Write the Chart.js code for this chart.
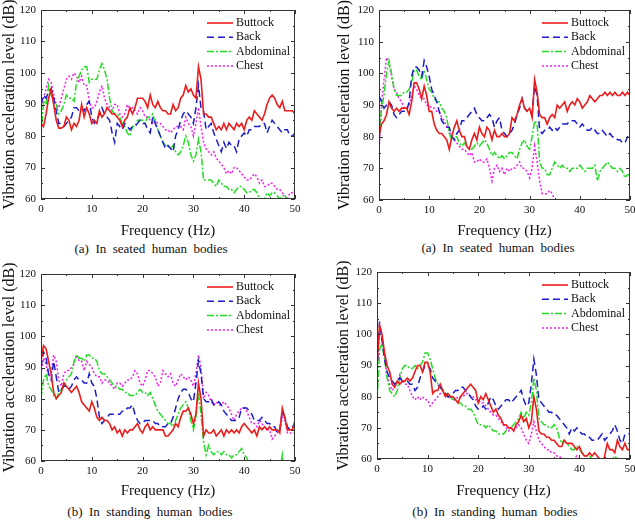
<!DOCTYPE html>
<html>
<head>
<meta charset="utf-8">
<script src="https://cdn.jsdelivr.net/npm/chart.js@4.4.1/dist/chart.umd.min.js"></script>
<style>
  html, body { margin: 0; padding: 0; background: #fff; }
  body { width: 635px; height: 525px; position: relative; overflow: hidden; }
  .panel { position: absolute; }
  .caption {
    position: absolute;
    font-family: 'Liberation Serif', 'Times New Roman', serif;
    font-size: 13px;
    color: #111;
    white-space: pre;
    transform: translate(-50%, -50%);
  }
</style>
</head>
<body>
<div class="panel" style="left:0;top:0"><canvas id="seated1" width="320" height="240"></canvas></div>
<div class="panel" style="left:320px;top:0"><canvas id="seated2" width="315" height="240"></canvas></div>
<div class="panel" style="left:0;top:260px"><canvas id="standing1" width="320" height="240"></canvas></div>
<div class="panel" style="left:320px;top:260px"><canvas id="standing2" width="315" height="240"></canvas></div>
<div class="caption" style="left:151px;top:249px">(a)  In  seated  human  bodies</div>
<div class="caption" style="left:498px;top:248px">(a)  In  seated  human  bodies</div>
<div class="caption" style="left:150px;top:512px">(b)  In  standing  human  bodies</div>
<div class="caption" style="left:495px;top:512px">(b)  In  standing  human  bodies</div>

<script>
// frequency axis, 0.5 Hz steps
const freq = [
  0, 0.5, 1, 1.5, 2, 2.5, 3, 3.5, 4, 4.5,
  5, 5.5, 6, 6.5, 7, 7.5, 8, 8.5, 9, 9.5,
  10, 10.5, 11, 11.5, 12, 12.5, 13, 13.5, 14, 14.5,
  15, 15.5, 16, 16.5, 17, 17.5, 18, 18.5, 19, 19.5,
  20, 20.5, 21, 21.5, 22, 22.5, 23, 23.5, 24, 24.5,
  25, 25.5, 26, 26.5, 27, 27.5, 28, 28.5, 29, 29.5,
  30, 30.5, 31, 31.5, 32, 32.5, 33, 33.5, 34, 34.5,
  35, 35.5, 36, 36.5, 37, 37.5, 38, 38.5, 39, 39.5,
  40, 40.5, 41, 41.5, 42, 42.5, 43, 43.5, 44, 44.5,
  45, 45.5, 46, 46.5, 47, 47.5, 48, 48.5, 49, 49.5,
  50
];

const seriesNames = ['Buttock', 'Back', 'Abdominal', 'Chest'];

// (a) seated, left panel
const seated1Buttock = [
  84, 83, 87, 92, 95, 90, 85, 82.5, 82.5, 83,
  86, 85, 82, 84, 83, 85, 90, 86, 89, 87,
  84, 85, 84, 88, 86, 87, 89, 88, 87, 87,
  86, 85, 83, 85, 86, 89, 87, 89, 92, 92,
  92, 91, 89, 93, 90, 89, 91, 89, 88, 88,
  87, 87, 90, 88, 89, 92, 93, 96, 94, 95,
  93, 92, 102, 98, 87, 87, 86, 86, 84, 82,
  83, 82, 84, 82, 84, 83, 82, 84, 83, 84,
  82, 85, 86, 85, 88, 87, 86, 85, 87, 90,
  92, 93, 92, 90, 89, 91, 88, 88, 88, 88,
  87
];
const seated1Back = [
  90, 93, 92, 94, 95, 92, 88, 84, 84, 83,
  84, 85, 86, 89, 89, 88, 89, 88, 90, 91,
  86, 84, 85, 87, 89, 87, 86, 85, 81, 78,
  84, 83, 82, 84, 83, 82, 83, 83, 84, 85,
  84, 84, 82, 81, 86, 84, 82, 80, 78, 76,
  77, 76, 75, 80, 82, 85, 87, 88, 87, 86,
  84, 89, 96, 89, 88, 82, 83, 84, 81, 79,
  77, 75, 78, 76, 78, 77, 77, 75, 79, 80,
  81, 80, 82, 82, 83, 83, 83, 84, 84, 81,
  83, 85, 84, 83, 82, 81, 82, 82, 80, 80,
  81
];
const seated1Abdominal = [
  80, 91, 90, 96, 93, 91, 90, 87, 88, 90,
  93, 92, 92, 91, 97, 99, 101, 102, 102, 97,
  98, 98, 98, 101, 103, 101, 98, 92, 88, 87,
  87, 86, 84, 83, 81, 80, 83, 83, 85, 85,
  85, 84, 86, 86, 87, 84, 82, 80, 78, 77,
  77, 76, 77, 75, 74, 75, 77, 80, 78, 74,
  72, 74, 79, 75, 66, 66, 66, 66, 65, 64,
  66, 65, 64, 64, 63, 63, 62, 63, 64, 64,
  63, 62, 62, 63, 63, 62, 60, 60, 60, 62,
  61, 62, 62, 61, 60, 61, 61, 60, 59, 60,
  60
];
const seated1Chest = [
  88, 92, 95, 98, 97, 93, 90, 89, 92, 95,
  98, 99, 98, 100, 99, 97, 99, 96, 96, 91,
  89, 89, 91, 94, 96, 92, 90, 89, 88, 90,
  90, 87, 86, 87, 90, 88, 89, 88, 87, 89,
  88, 86, 86, 85, 84, 85, 84, 84, 83, 82,
  82, 81, 82, 83, 83, 83, 82, 86, 84, 83,
  80, 84, 89, 83, 78, 76, 75, 74, 75, 73,
  72, 71, 70, 68, 69, 68, 70, 70, 69, 68,
  67, 66, 66, 67, 68, 67, 65, 66, 64, 64,
  65, 65, 64, 63, 63, 62, 61, 60, 62, 62,
  63
];

// (a) seated, right panel
const seated2Buttock = [
  80, 84, 85, 87, 91, 89, 88, 89, 88, 89,
  89, 89, 87, 91, 97, 97, 95, 92, 96, 93,
  88, 88, 84, 82, 81, 81, 80, 79, 76, 80,
  83, 85, 82, 80, 80, 77, 76, 79, 81, 79,
  83, 81, 80, 83, 82, 79, 82, 80, 80, 81,
  80, 80, 81, 86, 85, 87, 90, 92, 89, 88,
  89, 86, 98, 94, 87, 86, 86, 84, 86, 87,
  86, 90, 89, 90, 91, 88, 90, 91, 90, 92,
  91, 89, 90, 91, 93, 92, 91, 92, 93, 93,
  94, 93, 94, 93, 94, 93, 93, 94, 93, 94,
  93
];
const seated2Back = [
  93, 91, 89, 90, 91, 90, 87, 86, 87, 88,
  88, 88, 91, 99, 102, 102, 101, 99, 104, 102,
  99, 95, 93, 91, 88, 85, 84, 83, 83, 80,
  79, 81, 82, 85, 85, 86, 87, 88, 89, 87,
  86, 85, 85, 86, 87, 86, 83, 85, 86, 82,
  81, 80, 81, 82, 84, 87, 89, 92, 89, 88,
  88, 87, 96, 93, 82, 81, 82, 82, 83, 82,
  83, 82, 83, 84, 84, 84, 85, 85, 85, 84,
  83, 84, 83, 82, 82, 83, 82, 81, 81, 82,
  81, 80, 81, 80, 80, 79, 79, 78, 78, 80,
  80
];
const seated2Abdominal = [
  78, 89, 93, 100, 104, 100, 95, 93, 93, 93,
  94, 94, 95, 97, 101, 101, 99, 98, 101, 98,
  95, 94, 92, 91, 91, 89, 88, 86, 81, 79,
  80, 80, 78, 77, 78, 77, 76, 76, 77, 78,
  77, 78, 79, 78, 76, 74, 75, 74, 73, 74,
  73, 74, 75, 75, 74, 73, 76, 78, 79, 77,
  76, 80, 85, 84, 72, 70, 70, 68, 68, 70,
  72, 71, 70, 71, 70, 70, 69, 70, 70, 70,
  71, 70, 69, 70, 70, 70, 71, 66, 69, 70,
  71, 72, 71, 70, 70, 69, 70, 69, 67, 68,
  68
];
const seated2Chest = [
  75, 90, 98, 105, 103, 99, 95, 94, 92, 91,
  89, 89, 90, 93, 96, 95, 93, 92, 92, 90,
  90, 89, 89, 88, 88, 86, 85, 83, 82, 80,
  79, 78, 77, 76, 76, 75, 74, 75, 72, 72,
  73, 72, 72, 73, 70, 66, 70, 71, 69, 70,
  68, 70, 69, 70, 70, 71, 72, 70, 70, 69,
  67, 70, 77, 72, 66, 62, 62, 62, 63, 62,
  60, 59, 57, null, null, null, null, null, null, null,
  null, null, null, null, null, null, null, null, null, null,
  null, null, null, null, null, null, null, null, null, null,
  null
];

// (b) standing, left panel
const standing1Buttock = [
  92, 97, 96, 92, 88, 82, 80, 81, 82, 85,
  84, 83, 82, 83, 84, 82, 79, 78, 77, 76,
  79, 77, 74, 73, 74, 73, 73, 72, 70, 71,
  69, 70, 68, 70, 69, 70, 70, 71, 72, 70,
  69, 71, 72, 70, 71, 70, 70, 70, 70, 68,
  68, 69, 70, 72, 71, 74, 76, 76, 77, 75,
  72, 75, 85, 80, 68, 70, 69, 69, 70, 68,
  69, 70, 68, 70, 69, 70, 69, 70, 69, 71,
  72, 71, 70, 69, 70, 68, 71, 70, 71, 70,
  71, 70, 70, 70, 69, 77, 74, 70, 70, 70,
  73
];
const standing1Back = [
  90, 95, 93, 88, 86, 92, 87, 82, 83, 84,
  84, 83, 84, 86, 87, 86, 86, 85, 85, 88,
  85, 84, 80, 74, 72, 73, 74, 75, 75, 75,
  75, 75, 76, 76, 77, 77, 78, 75, 73, 72,
  72, 73, 73, 73, 73, 72, 72, 71, 71, 71,
  72, 72, 74, 77, 80, 82, 83, 83, 82, 80,
  79, 85, 92, 88, 80, 79, 79, 80, 78, 78,
  79, 78, 76, 75, 74, 73, 73, 73, 74, 77,
  77, 77, 76, 75, 73, 73, 73, 74, 73, 72,
  72, 71, 71, 69, 70, 76, 74, 71, 70, 71,
  72
];
const standing1Abdominal = [
  80, 86, 88, 84, 83, 81, 80, 82, 83, 84,
  86, 87, 88, 92, 94, 93, 93, 92, 94, 94,
  93, 93, 92, 89, 88, 88, 87, 86, 85, 84,
  84, 83, 83, 82, 82, 81, 81, 81, 82, 83,
  82, 82, 81, 82, 80, 78, 76, 75, 74, 73,
  72, 72, 71, 73, 75, 77, 78, 79, 77, 73,
  70, 74, 82, 75, 66, 62, 65, 63, 62, 63,
  63, 62, 63, 62, 62, 61, 62, 62, 63, 64,
  62, 61, 59, 57, null, null, null, null, null, null,
  null, null, null, null, 56, 62, 56, null, null, null,
  null
];
const standing1Chest = [
  88, 93, 91, 87, 88, 94, 92, 86, 84, 88,
  89, 89, 90, 91, 94, 92, 92, 89, 92, 91,
  90, 88, 87, 87, 85, 86, 86, 85, 84, 83,
  85, 85, 84, 85, 86, 86, 87, 89, 88, 85,
  84, 86, 89, 89, 88, 87, 84, 85, 89, 88,
  87, 88, 85, 84, 86, 88, 87, 86, 87, 86,
  84, 88, 94, 90, 80, 82, 81, 79, 78, 79,
  78, 78, 79, 78, 77, 75, 73, 75, 76, 77,
  77, 76, 74, 72, 72, 71, 73, 72, 71, 70,
  70, 67, 68, 69, 70, 74, 73, 69, 69, 69,
  69
];

// (b) standing, right panel
const standing2Buttock = [
  90, 103, 100, 94, 90, 88, 84, 83, 85, 84,
  85, 85, 86, 85, 86, 88, 90, 90, 88, 91,
  91, 88, 81, 82, 82, 84, 82, 80, 81, 80,
  80, 79, 78, 80, 81, 82, 83, 84, 83, 82,
  78, 80, 79, 81, 79, 77, 75, 76, 74, 73,
  71, 71, 70, 70, 69, 71, 72, 74, 72, 73,
  70, 72, 80, 76, 69, 68, 68, 67, 67, 66,
  66, 65, 64, 64, 66, 65, 65, 65, 64, 63,
  64, 62, 61, 61, 62, 61, 62, 61, 60, 58,
  61, 65, 63, 63, 62, 66, 64, 63, 65, 63,
  63
];
const standing2Back = [
  88, 104, 98, 92, 88, 86, 85, 84, 85, 86,
  85, 85, 85, 84, 84, 82, 83, 86, 88, 90,
  90, 89, 86, 85, 84, 83, 82, 81, 80, 80,
  81, 82, 82, 83, 83, 82, 81, 80, 79, 77,
  76, 76, 77, 76, 78, 80, 79, 77, 76, 77,
  78, 79, 79, 78, 79, 80, 81, 82, 79, 77,
  78, 84, 92, 87, 79, 78, 77, 76, 75, 75,
  74, 74, 73, 72, 71, 70, 68, 70, 69, 70,
  69, 68, 68, 67, 67, 66, 66, 66, 67, 68,
  66, 67, 68, 69, 71, 69, 66, 65, 68, 68,
  68
];
const standing2Abdominal = [
  78, 95, 97, 92, 86, 82, 81, 80, 82, 86,
  89, 90, 90, 89, 89, 90, 89, 90, 91, 94,
  94, 92, 89, 86, 84, 83, 82, 81, 81, 80,
  79, 79, 78, 78, 77, 77, 76, 76, 75, 73,
  71, 71, 71, 70, 71, 70, 69, 69, 68, 68,
  68, 69, 70, 70, 71, 72, 73, 75, 73, 75,
  74, 78, 86, 82, 73, 72, 71, 71, 70, 70,
  71, 70, 67, 65, 66, 65, 64, 63, 63, 64,
  63, 62, 61, 61, 61, 60, 60, 60, 60, 59,
  59, 58, 59, 60, 61, 60, 59, 58, null, null,
  null
];
const standing2Chest = [
  88, 100, 99, 93, 87, 84, 82, 83, 85, 87,
  85, 84, 84, 82, 80, 79, 80, 79, 80, 79,
  79, 77, 78, 79, 80, 81, 82, 81, 80, 80,
  79, 79, 80, 80, 80, 81, 81, 80, 80, 79,
  79, 78, 78, 77, 76, 75, 74, 74, 73, 72,
  71, 70, 69, 70, 69, 70, 71, 70, 68, 66,
  65, 68, 72, 69, 66, 65, 64, 63, 63, 62,
  62, 61, 61, 60, 60, 59, 58, 59, 60, 61,
  59, 57, null, null, null, null, null, null, null, null,
  null, null, null, null, null, null, null, null, null, null,
  null
];

const lineStyles = [
  { color: '#ec1c1c', dash: [], width: 1.6 },
  { color: '#1c1ccc', dash: [7, 4], width: 1.5 },
  { color: '#22dd22', dash: [7, 2, 2, 2], width: 1.5 },
  { color: '#ee22ee', dash: [2, 2], width: 1.5 }
];

const serif = "'Liberation Serif', 'Times New Roman', serif";

// inward ticks on all four sides + box
const framePlugin = {
  id: 'frame',
  afterDatasetsDraw(chart) {
    const { ctx, chartArea: a, scales: { x, y } } = chart;
    ctx.save();
    ctx.strokeStyle = '#333';
    ctx.lineWidth = 1;
    ctx.strokeRect(a.left + 0.5, a.top + 0.5, a.right - a.left - 1, a.bottom - a.top - 1);
    ctx.beginPath();
    for (let v = 0; v <= 50; v += 5) {
      const px = Math.round(x.getPixelForValue(v)) + 0.5;
      const len = v % 10 === 0 ? 4 : 2;
      ctx.moveTo(px, a.bottom); ctx.lineTo(px, a.bottom - len);
      ctx.moveTo(px, a.top); ctx.lineTo(px, a.top + len);
    }
    for (let v = 60; v <= 120; v += 5) {
      const py = Math.round(y.getPixelForValue(v)) + 0.5;
      const len = v % 10 === 0 ? 4 : 2;
      ctx.moveTo(a.left, py); ctx.lineTo(a.left + len, py);
      ctx.moveTo(a.right, py); ctx.lineTo(a.right - len, py);
    }
    ctx.stroke();

    // legend, top right inside the plot
    ctx.font = '12px ' + serif;
    ctx.textBaseline = 'middle';
    ctx.fillStyle = '#111';
    chart.data.datasets.forEach((ds, i) => {
      const ly = a.top + 13 + i * 14.3;
      const lx = a.right - 88;
      ctx.beginPath();
      ctx.strokeStyle = ds.borderColor;
      ctx.lineWidth = ds.borderWidth;
      ctx.setLineDash(ds.borderDash);
      ctx.moveTo(lx, ly);
      ctx.lineTo(lx + 26, ly);
      ctx.stroke();
      ctx.setLineDash([]);
      ctx.fillText(ds.label, lx + 29, ly);
    });
    ctx.restore();
  }
};

function makeChart(id, series, box) {
  const canvas = document.getElementById(id);
  const datasets = series.map((vals, i) => ({
    label: seriesNames[i],
    data: freq.map((f, k) => ({ x: f, y: vals[k] })),
    borderColor: lineStyles[i].color,
    borderDash: lineStyles[i].dash,
    borderWidth: lineStyles[i].width,
    pointRadius: 0,
    tension: 0,
    fill: false,
    clip: 0
  }));

  new Chart(canvas.getContext('2d'), {
    type: 'line',
    data: { datasets: datasets },
    options: {
      responsive: false,
      animation: false,
      events: [],
      layout: {
        padding: { left: box.padLeft, top: box.top, right: canvas.width - box.right, bottom: 0 }
      },
      plugins: { legend: { display: false }, tooltip: { enabled: false } },
      scales: {
        x: {
          type: 'linear',
          min: 0,
          max: 50,
          border: { display: false },
          grid: { display: false, drawTicks: false },
          ticks: {
            stepSize: 10,
            padding: 4,
            maxRotation: 0,
            autoSkip: false,
            color: '#111',
            font: { family: serif, size: 11 }
          },
          title: {
            display: true,
            text: 'Frequency (Hz)',
            color: '#111',
            padding: 0,
            font: { family: serif, size: 15 }
          },
          afterFit(s) {
            s.height = box.xTitleY + 9 - box.bottom;
            s.paddingLeft = 0;
            s.paddingRight = 0;
          }
        },
        y: {
          min: 60,
          max: 120,
          border: { display: false },
          grid: { display: false, drawTicks: false },
          ticks: {
            stepSize: 10,
            padding: 5,
            color: '#111',
            font: { family: serif, size: 11 }
          },
          title: {
            display: true,
            text: 'Vibration acceleration level (dB)',
            color: '#111',
            padding: 0,
            font: { family: serif, size: 16 }
          },
          afterFit(s) {
            s.width = box.left - box.padLeft;
            s.paddingTop = 0;
            s.paddingBottom = 0;
          }
        }
      }
    },
    plugins: [framePlugin]
  });
}

makeChart('seated1', [seated1Buttock, seated1Back, seated1Abdominal, seated1Chest],
  { left: 41, right: 295, top: 10, bottom: 197, padLeft: 0, xTitleY: 229 });
makeChart('seated2', [seated2Buttock, seated2Back, seated2Abdominal, seated2Chest],
  { left: 59, right: 310, top: 10, bottom: 196, padLeft: 15, xTitleY: 227 });
makeChart('standing1', [standing1Buttock, standing1Back, standing1Abdominal, standing1Chest],
  { left: 41, right: 295, top: 14, bottom: 200, padLeft: 0, xTitleY: 230 });
makeChart('standing2', [standing2Buttock, standing2Back, standing2Abdominal, standing2Chest],
  { left: 57, right: 310, top: 12, bottom: 197, padLeft: 14, xTitleY: 229 });
</script>
</body>
</html>
